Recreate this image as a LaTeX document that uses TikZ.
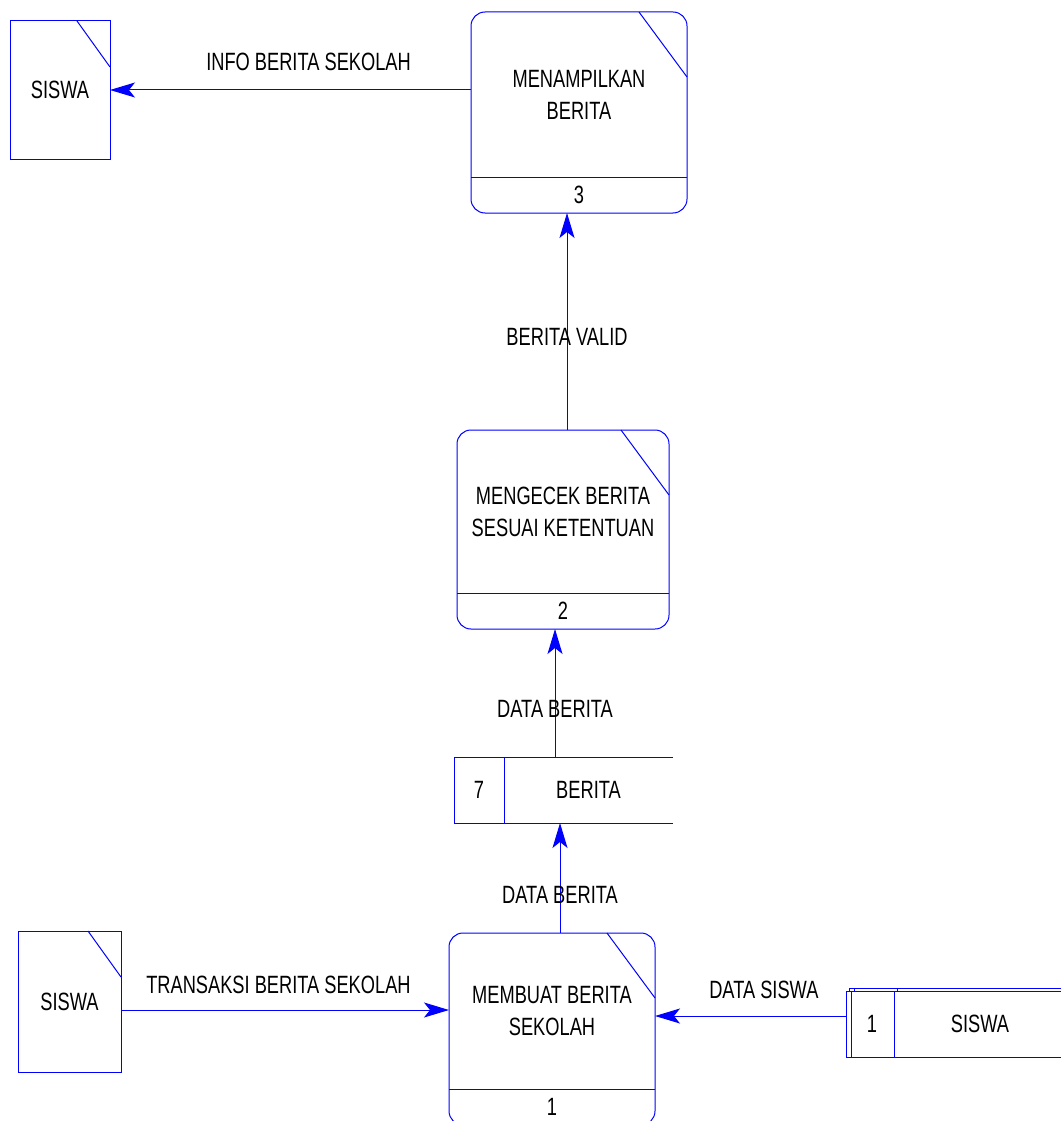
\documentclass[tikz,border=0pt]{standalone}
\usepackage{fontspec}
\newfontfamily\dfdfont[FakeStretch=0.73]{Liberation Sans}
\usetikzlibrary{arrows.meta,calc}

\begin{document}
\begin{tikzpicture}[x=1pt,y=-1pt,
	font=\dfdfont\fontsize{25}{32}\selectfont,
	line/.style={draw=blue, line width=1pt},
	proc/.style={line, rounded corners=14pt, inner sep=0pt, outer sep=0pt},
	ent/.style={line, inner sep=0pt, outer sep=0pt},
	store/.style={inner sep=0pt, outer sep=0pt, minimum height=66},
	flow/.style={line, -{Stealth[length=25pt, width=15pt, inset=6pt]}}]
\useasboundingbox (0,0) rectangle (1060,1121);

% processes
\node[proc, minimum width=216, minimum height=201] (p3) at (579,112.5) {};
\node[proc, minimum width=212, minimum height=199] (p2) at (563,529.5) {};
\node[proc, minimum width=206, minimum height=192] (p1) at (552,1029) {};

\foreach \p/\n/\t in {p3/3/{MENAMPILKAN\\BERITA}, p2/2/{MENGECEK BERITA\\SESUAI KETENTUAN}, p1/1/{MEMBUAT BERITA\\SEKOLAH}} {
	\draw[line] ($(\p.south west)+(0,-36)$) -- ($(\p.south east)+(0,-36)$);
	\draw[line] ($(\p.north east)+(-48,0)$) -- ($(\p.north east)+(0,65)$);
	\node[align=center] (\p-name) at ($(\p.center)+(0,-18)$) {\t};
	\node (\p-no) at ($(\p.south)+(0,-18)$) {\n};
}

% externals
\node[ent, minimum width=100, minimum height=138] (e1) at (60,90) {SISWA};
\node[ent, minimum width=103, minimum height=141] (e2) at (69.5,1001.5) {SISWA};
\foreach \e in {e1,e2}
	\draw[line] ($(\e.north east)+(-33,0)$) -- ($(\e.north east)+(0,46)$);

% stores
\node[store, minimum width=219] (d7) at (563.5,790) {};
\draw[line] (d7.north east) -- (d7.north west) -- (d7.south west) -- (d7.south east);
\draw[line] ($(d7.north west)+(50,0)$) -- ($(d7.south west)+(50,0)$);
\node (d7-no) at ($(d7.west)+(25,0)$) {7};
\node (d7-name) at ($(d7.east)+(-84.5,0)$) {BERITA};

\node[store, minimum width=229] (d1) at (960.5,1024) {};
\draw[line] ($(d1.north east)+(3,-3)$) -- ($(d1.north west)+(3,-3)$) -- ($(d1.south west)+(3,-3)$);
\draw[line] ($(d1.north west)+(8,-3)$) -- ($(d1.south west)+(8,-3)$);
\draw[line] ($(d1.north west)+(51,-3)$) -- ($(d1.south west)+(51,-3)$);
\fill[white] (d1.north west) rectangle (d1.south east);
\draw[line] (d1.north east) -- (d1.north west) -- (d1.south west) -- (d1.south east);
\draw[line] ($(d1.north west)+(5,0)$) -- ($(d1.south west)+(5,0)$);
\draw[line] ($(d1.north west)+(48,0)$) -- ($(d1.south west)+(48,0)$);
\node (d1-no) at ($(d1.west)+(26,0)$) {1};
\node (d1-name) at ($(d1.west)+(134,0)$) {SISWA};

% flows
\draw[flow] (e1.east -| p3.west) -- (e1.east) node[pos=.45, above=15pt] {INFO BERITA SEKOLAH};
\coordinate (c2) at ($(p2.north)+(4,0)$);
\draw[flow] (c2) -- (c2 |- p3.south) node[pos=.43] {BERITA VALID};
\coordinate (c7) at ($(d7.north)+(-8.5,0)$);
\draw[flow] (c7) -- (c7 |- p2.south) node[pos=.375] {DATA BERITA};
\coordinate (c1) at ($(p1.north)+(8,0)$);
\draw[flow] (c1) -- (c1 |- d7.south) node[pos=.35] {DATA BERITA};
\coordinate (ce) at ($(e2.east)+(0,8.5)$);
\draw[flow] (ce) -- (ce -| p1.west) node[pos=.48, above=12pt] {TRANSAKSI BERITA SEKOLAH};
\coordinate (cs) at ($(d1.west)+(0,-8)$);
\draw[flow] (cs) -- (cs -| p1.east) node[pos=.43, above=13pt] {DATA SISWA};
\end{tikzpicture}
\end{document}
